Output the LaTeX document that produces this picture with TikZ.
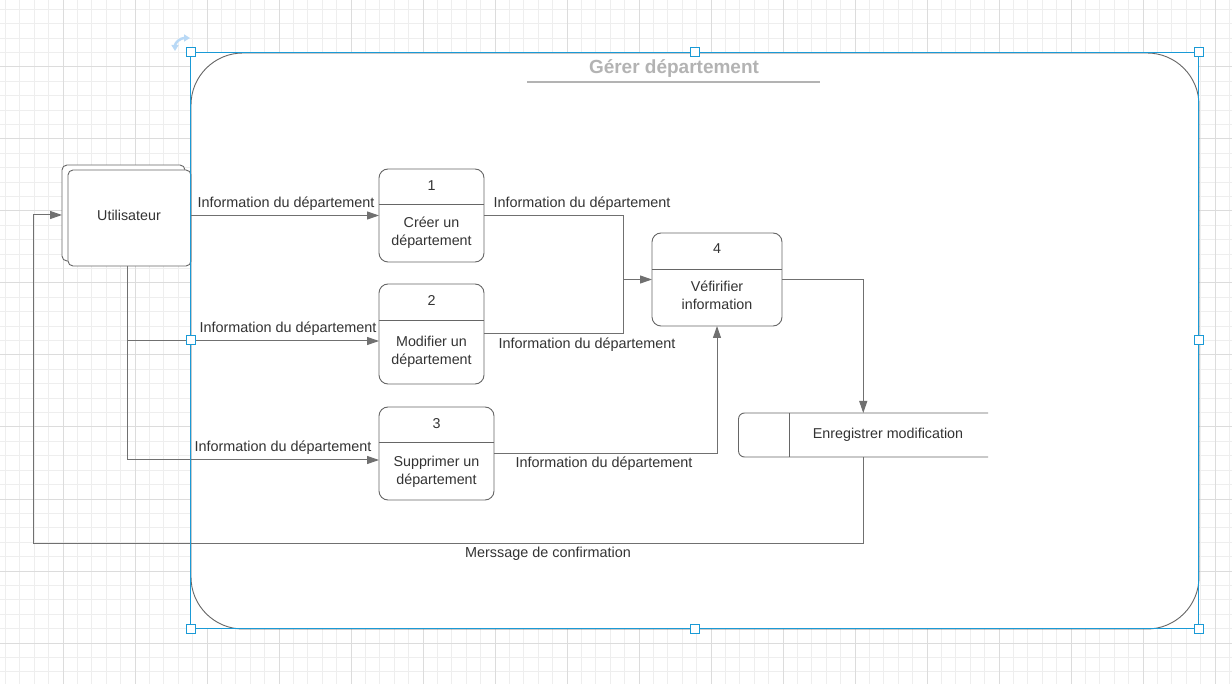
\documentclass[tikz,border=0pt]{standalone}
\usepackage{fontspec}
\setmainfont{Liberation Sans}
\usetikzlibrary{arrows.meta,calc}
\definecolor{ink}{HTML}{333333}
\definecolor{edge}{HTML}{666666}
\definecolor{wire}{HTML}{707070}
\definecolor{sel}{HTML}{1A9AD6}
\definecolor{selsoft}{HTML}{B9D9F6}
\definecolor{gridminor}{HTML}{EEEEEE}
\definecolor{gridmajor}{HTML}{DCDCDC}
\definecolor{titlegray}{HTML}{B3B3B3}

\begin{document}
\begin{tikzpicture}[x=1pt,y=-1pt,
  every node/.style={font=\fontsize{14.3}{18}\selectfont, text=ink, inner sep=0pt, outer sep=0pt},
  proc/.style={draw=edge, line width=0.9pt, fill=white, rounded corners=9pt},
  actor/.style={draw=edge, line width=0.9pt, fill=white, rounded corners=5pt,
                minimum width=123pt, minimum height=96pt},
  divider/.style={draw=edge, line width=0.9pt},
  flow/.style={draw=wire, line width=1pt, -{Triangle[length=12pt,width=8pt]}},
  wireline/.style={draw=wire, line width=1pt},
  handle/.style={draw=sel, fill=white, line width=1pt, minimum size=9pt},
  lbl/.style={font=\fontsize{14.4}{18}\selectfont}
]
\useasboundingbox (0,0) rectangle (1232,684);

% paper grid
\fill[white] (0,0) rectangle (1232,684);
\foreach \i in {0,...,85} \draw[gridminor, line width=1pt] ({5.4+14.4*\i},0) -- ++(0,684);
\foreach \j in {0,...,47} \draw[gridminor, line width=1pt] (0,{9.4+14.4*\j}) -- ++(1232,0);
\foreach \i in {0,...,16} \draw[gridmajor, line width=1pt] ({63+72*\i},0) -- ++(0,684);
\foreach \j in {0,...,8} \draw[gridmajor, line width=1pt] (0,{67+72*\j}) -- ++(1232,0);

% boundary of the process
\fill[white] (191,53) rectangle (1199,629);
\draw[edge, line width=0.9pt, rounded corners=52pt] (191,53) rectangle (1199,629);
\node[font=\fontsize{19}{22}\selectfont\bfseries, text=titlegray] (title) at (674,69) {Gérer département};
\draw[titlegray, line width=2pt] (527,82) -- (820,82);

% external entity
\node[actor] (userback) at (123.5,213) {};
\node[actor] (user) at (129.5,218) {};
\node (tu) at (129,215) {Utilisateur};

% processes
\node[proc, minimum width=105pt, minimum height=93pt] (p1) at (431.5,215.5) {};
\node[proc, minimum width=105pt, minimum height=100pt] (p2) at (431.5,334) {};
\node[proc, minimum width=115pt, minimum height=93pt] (p3) at (436.5,453.5) {};
\node[proc, minimum width=130pt, minimum height=93pt] (p4) at (717,279.5) {};

\draw[divider] ($(p1.north west)+(0,35)$) -- ($(p1.north east)+(0,35)$);
\draw[divider] ($(p2.north west)+(0,36)$) -- ($(p2.north east)+(0,36)$);
\draw[divider] ($(p3.north west)+(0,35)$) -- ($(p3.north east)+(0,35)$);
\draw[divider] ($(p4.north west)+(0,36)$) -- ($(p4.north east)+(0,36)$);

\node (n1) at ($(p1.north)+(0,17)$) {1};
\node (n2) at ($(p2.north)+(0,17)$) {2};
\node (n3) at ($(p3.north)+(0,17)$) {3};
\node (n4) at ($(p4.north)+(0,16)$) {4};
\node[align=center] (t1) at (431.5,233) {Créer un\\département};
\node[align=center] (t2) at (431.5,352) {Modifier un\\département};
\node[align=center] (t3) at (436.5,471.5) {Supprimer un\\département};
\node[align=center] (t4) at (717,295.5) {Véfirifier\\information};

% data store
\node[minimum width=249.5pt, minimum height=44pt, anchor=north west] (st) at (738.5,413) {};
\draw[divider, rounded corners=6pt] (st.north east) -- (st.north west) -- (st.south west) -- (st.south east);
\draw[divider] (st.north west -| 789,0) -- (st.south west -| 789,0);
\node (tst) at (888,435) {Enregistrer modification};

% flows
\coordinate (ub) at (127,266);
\coordinate (join) at (623,279.5);
\coordinate (ret) at (33,543);
\draw[flow] (p1.west -| user.east) -- (p1.west);
\draw[flow] (p1.east) -| (join) -- (p4.west);
\draw[wireline] (p2.east) -| (join);
\draw[flow] (ub) |- ($(p3.west)+(0,6.5)$);
\draw[flow] (ub |- 0,341) -- ($(p2.west)+(0,7)$);
\draw[flow] (p3.east) -| (p4.south);
\draw[flow] (p4.east) -| (st.north);
\draw[flow] (st.south) |- (ret) |- ($(userback.west)+(0,2)$);

% flow labels
\node[lbl] (l1) at (286,204) {Information du département};
\node[lbl] (l2) at (582,204) {Information du département};
\node[lbl] (l3) at (288,329) {Information du département};
\node[lbl] (l4) at (587,345) {Information du département};
\node[lbl] (l5) at (283,448) {Information du département};
\node[lbl] (l6) at (604,464) {Information du département};
\node[lbl] (l7) at (548,554) {Merssage de confirmation};

% selection frame with its handles and rotation mark
\draw[sel, line width=1pt] (190.5,52.5) rectangle (1198.5,628.5);
\foreach \p [count=\k] in {(190.5,52.5),(694.5,52.5),(1198.5,52.5),(190.5,340.5),
                          (1198.5,340.5),(190.5,628.5),(694.5,628.5),(1198.5,628.5)}
  \node[handle] (h\k) at \p {};
\draw[selsoft, line width=2.5pt, {Triangle[length=6pt,width=7pt]}-{Triangle[length=6pt,width=7pt]}]
  (175,51) .. controls (175,43) and (180,38) .. (190,38);
\end{tikzpicture}
\end{document}
